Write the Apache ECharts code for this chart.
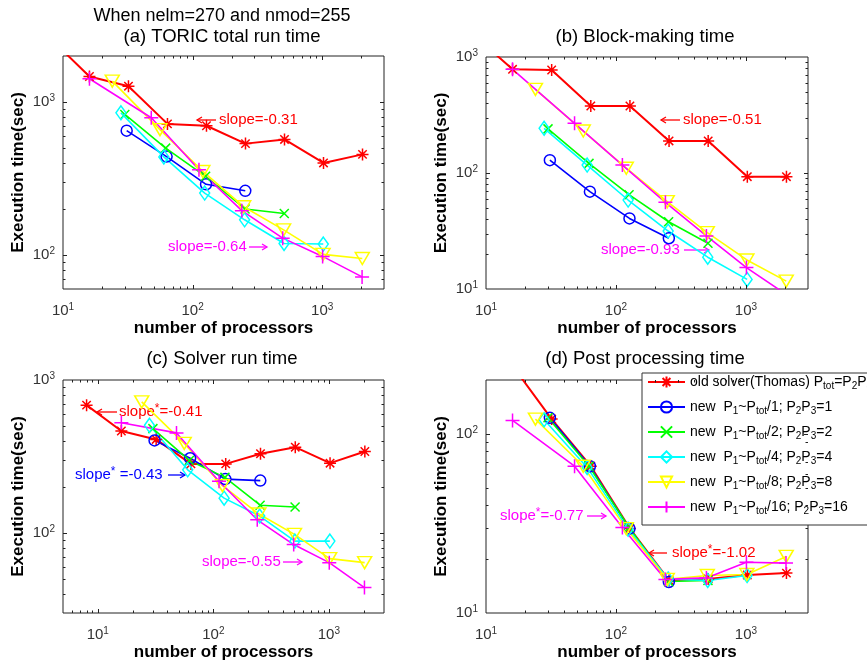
<!DOCTYPE html>
<html>
<head>
<meta charset="utf-8">
<script src="https://cdn.jsdelivr.net/npm/echarts@6/dist/echarts.min.js"></script>
<style>
html, body { margin: 0; padding: 0; background: #fff; }
#main { width: 867px; height: 664px; }
</style>
</head>
<body>
<div id="main"></div>
<script>
// processor counts of each run
var xOld = [8, 16, 32, 64, 128, 256, 512, 1024, 2048];
var xNew1 = [31, 63, 127, 255];
var xNew2 = [30, 62, 126, 254, 510];
var xNew4 = [28, 60, 124, 252, 508, 1020];
var xNew8 = [24, 56, 120, 248, 504, 1016, 2040];
var xNew16 = [16, 48, 112, 240, 496, 1008, 2032];

// (a) total run time
var totOld = [2600, 1470, 1270, 720, 700, 535, 570, 400, 455];
var totNew1 = [650, 440, 290, 263];
var totNew2 = [830, 500, 327, 200, 187];
var totNew4 = [850, 438, 254, 170, 119, 118];
var totNew8 = [1370, 660, 352, 207, 146, 101, 95];
var totNew16 = [1420, 790, 361, 195, 129, 98, 72];

// (b) block-making time
var blkOld = [1560, 783, 773, 378, 378, 189, 189, 93, 93];
var blkNew1 = [129, 69, 40.6, 27.4];
var blkNew2 = [240, 121, 65, 38, 24.8];
var blkNew4 = [243, 117, 58.5, 31.6, 18.8, 12.1];
var blkNew8 = [526, 230, 110, 56.6, 30.6, 17.8, 11.7];
var blkNew16 = [783, 268, 117, 55.9, 28.7, 15.3, 9];

// (c) solver run time
var solOld = [685, 464, 409, 283, 283, 330, 364, 286, 341];
var solNew1 = [403, 308, 225, 220];
var solNew2 = [481, 298, 231, 152, 148];
var solNew4 = [506, 259, 169, 129, 88.5, 88.5];
var solNew8 = [720, 385, 204, 133, 98, 68, 64];
var solNew16 = [526, 451, 218, 122, 84, 64, 44];

// (d) post processing time
var postOld = [480, 240, 121, 66, 29.6, 15.2, 15.5, 16.3, 16.7];
var postNew1 = [123, 66, 29.6, 14.9];
var postNew2 = [123, 66, 30, 15, 15.2];
var postNew4 = [120, 65, 29.4, 15.5, 15.2, 16.2];
var postNew8 = [121, 66, 29.6, 15.4, 16.2, 16.4, 20.7];
var postNew16 = [119, 66, 30, 15.4, 15.7, 19.2, 19.0];

var seriesNames = ['old', 'new1', 'new2', 'new4', 'new8', 'new16'];
var legendText = {
  old: 'old solver(Thomas) P{s|tot}=P{s|2}P{s|3}',
  new1: 'new  P{s|1}~P{s|tot}/1; P{s|2}P{s|3}=1',
  new2: 'new  P{s|1}~P{s|tot}/2; P{s|2}P{s|3}=2',
  new4: 'new  P{s|1}~P{s|tot}/4; P{s|2}P{s|3}=4',
  new8: 'new  P{s|1}~P{s|tot}/8; P{s|2}P{s|3}=8',
  new16: 'new  P{s|1}~P{s|tot}/16; P{s|2}P{s|3}=16'
};
var xLists = [xOld, xNew1, xNew2, xNew4, xNew8, xNew16];
var panels = [
  [totOld, totNew1, totNew2, totNew4, totNew8, totNew16],
  [blkOld, blkNew1, blkNew2, blkNew4, blkNew8, blkNew16],
  [solOld, solNew1, solNew2, solNew4, solNew8, solNew16],
  [postOld, postNew1, postNew2, postNew4, postNew8, postNew16]
];

var colors = ['#ff0000', '#0000ff', '#00ff00', '#00ffff', '#ffff00', '#ff00ff'];
var symbols = [
  'path://M10 0L10 20M0 10L20 10M3 3L17 17M3 17L17 3',
  'circle',
  'path://M0 0L20 20M0 20L20 0',
  'diamond',
  'path://M0 0L20 0L10 17Z',
  'path://M10 0L10 20M0 10L20 10'
];
var symbolSizes = [12, 11, 9, [10, 14], [14, 12], 14];

var FONT = '"Liberation Sans", Arial, Helvetica, sans-serif';

var grids = [
  {left: 63, top: 56, width: 321, height: 233},
  {left: 486, top: 57, width: 322, height: 232},
  {left: 63, top: 380, width: 321, height: 233},
  {left: 486, top: 380, width: 322, height: 233}
];
var xRange = [[10, 3000], [10, 3000], [5, 3000], [10, 3000]];
var yRange = [[60, 2000], [10, 1000], [30, 1000], [10, 200]];

function powLabel(v) {
  var e = Math.round(Math.log10(v));
  if (Math.abs(v - Math.pow(10, e)) / v > 1e-6) return '';
  return '{b|10}{e|' + e + '}';
}
var tickRich = {
  b: {fontSize: 15, lineHeight: 18, color: '#333', fontFamily: FONT},
  e: {fontSize: 10, lineHeight: 8, verticalAlign: 'top', color: '#333', fontFamily: FONT}
};

var xAxes = [], yAxes = [], series = [];
for (var k = 0; k < 4; k++) {
  grids[k].show = true;
  grids[k].borderColor = '#222';
  grids[k].borderWidth = 1;
  grids[k].backgroundColor = 'transparent';
  xAxes.push({
    type: 'log', logBase: 10, gridIndex: k,
    min: xRange[k][0], max: xRange[k][1],
    name: 'number of processors', nameLocation: 'middle', nameGap: 29,
    nameTextStyle: {fontSize: 17, fontWeight: 'bold', color: '#000', fontFamily: FONT},
    axisLine: {show: false}, axisTick: {show: false}, splitLine: {show: false},
    axisLabel: {margin: 13, fontSize: 15, color: '#333', formatter: powLabel, rich: tickRich,
      showMinLabel: true, showMaxLabel: true}
  });
  yAxes.push({
    type: 'log', logBase: 10, gridIndex: k,
    min: yRange[k][0], max: yRange[k][1],
    name: 'Execution time(sec)', nameLocation: 'middle', nameGap: 36,
    nameTextStyle: {fontSize: 17, fontWeight: 'bold', color: '#000', fontFamily: FONT},
    axisLine: {show: false}, axisTick: {show: false}, splitLine: {show: false},
    axisLabel: {margin: 8, fontSize: 15, color: '#333', formatter: powLabel, rich: tickRich,
      showMinLabel: true, showMaxLabel: true}
  });
  for (var s = 0; s < 6; s++) {
    var xs = xLists[s], ys = panels[k][s], pts = [];
    for (var i = 0; i < xs.length; i++) pts.push([xs[i], ys[i]]);
    series.push({
      type: 'line', name: seriesNames[s], xAxisIndex: k, yAxisIndex: k,
      data: pts, clip: true,
      symbol: symbols[s], symbolSize: symbolSizes[s], showAllSymbol: true,
      lineStyle: {color: colors[s], width: s === 0 ? 2 : 1.6},
      itemStyle: {color: 'none', borderColor: colors[s], borderWidth: 1.5},
      emphasis: {disabled: true}
    });
  }
}

var chart = echarts.init(document.getElementById('main'));
chart.setOption({
  animation: false,
  backgroundColor: '#fff',
  grid: grids,
  xAxis: xAxes,
  yAxis: yAxes,
  legend: {
    data: seriesNames,
    orient: 'vertical', left: 642, top: 373,
    padding: [0, 5, 9, 5], itemGap: 7, itemWidth: 37, itemHeight: 14,
    backgroundColor: '#fff', borderColor: '#333', borderWidth: 1, borderRadius: 0,
    selectedMode: false,
    formatter: function (name) { return legendText[name]; },
    textStyle: {
      fontSize: 14, lineHeight: 18, color: '#000', fontFamily: FONT,
      rich: {s: {fontSize: 10, lineHeight: 5, verticalAlign: 'bottom', color: '#000', fontFamily: FONT}}
    }
  },
  series: series
});

// titles, slope notes and MATLAB-like log ticks
var els = [];
function label(x, y, txt, size, color, align, weight) {
  els.push({type: 'text', x: x, y: y, silent: true, style: {
    text: txt, fill: color, fontSize: size, fontFamily: FONT, fontWeight: weight || 'normal',
    align: align, verticalAlign: 'middle'
  }});
}
var noteRich = {u: {fontSize: 12, lineHeight: 8, verticalAlign: 'top', fontFamily: FONT}};
function note(x, y, txt, color) {
  els.push({type: 'text', x: x, y: y, silent: true, style: {
    text: txt, fill: color, fontSize: 15, lineHeight: 18, fontFamily: FONT,
    align: 'left', verticalAlign: 'middle', rich: noteRich
  }});
}
function arrow(tail, tip, y, color) {
  var d = tip > tail ? -1 : 1;
  els.push({type: 'line', silent: true, shape: {x1: tail, y1: y, x2: tip, y2: y},
    style: {stroke: color, lineWidth: 1.3}});
  els.push({type: 'polyline', silent: true,
    shape: {points: [[tip + 5 * d, y - 3], [tip, y], [tip + 5 * d, y + 3]]},
    style: {stroke: color, lineWidth: 1.3, fill: 'none'}});
}

label(222, 16, 'When nelm=270 and nmod=255', 18, '#000', 'center');
label(222, 37, '(a) TORIC total run time', 18.5, '#000', 'center');
label(645, 37, '(b) Block-making time', 18.5, '#000', 'center');
label(222, 359, '(c) Solver run time', 18.5, '#000', 'center');
label(645, 359, '(d) Post processing time', 18.5, '#000', 'center');

arrow(216, 197, 120, '#ff0000'); note(219, 120, 'slope=-0.31', '#ff0000');
note(168, 247, 'slope=-0.64', '#ff00ff'); arrow(249, 267, 247, '#ff00ff');
arrow(680, 661, 120, '#ff0000'); note(683, 120, 'slope=-0.51', '#ff0000');
note(601, 250, 'slope=-0.93', '#ff00ff'); arrow(684, 709, 250, '#ff00ff');
arrow(117, 97, 412, '#ff0000'); note(119, 412, 'slope{u|*}=-0.41', '#ff0000');
note(75, 475, 'slope{u|*} =-0.43', '#0000ff'); arrow(168, 185, 475, '#0000ff');
note(202, 562, 'slope=-0.55', '#ff00ff'); arrow(283, 302, 562, '#ff00ff');
note(500, 516, 'slope{u|*}=-0.77', '#ff00ff'); arrow(587, 606, 516, '#ff00ff');
arrow(667, 649, 553, '#ff0000'); note(672, 553, 'slope{u|*}=-1.02', '#ff0000');

function logTicks(lo, hi) {
  var out = [];
  for (var d = Math.floor(Math.log10(lo)); d <= Math.ceil(Math.log10(hi)); d++) {
    for (var m = 1; m <= 9; m++) {
      var v = m * Math.pow(10, d);
      if (v > lo * 1.0001 && v < hi * 0.9999) out.push({v: v, major: m === 1});
    }
  }
  return out;
}
function tick(x1, y1, x2, y2) {
  els.push({type: 'line', silent: true, z: 10, shape: {x1: x1, y1: y1, x2: x2, y2: y2},
    style: {stroke: '#222', lineWidth: 1}});
}
for (var g = 0; g < 4; g++) {
  var L = grids[g].left, T = grids[g].top;
  var R = L + grids[g].width, B = T + grids[g].height;
  logTicks(xRange[g][0], xRange[g][1]).forEach(function (t) {
    var px = Math.round(chart.convertToPixel({xAxisIndex: g}, t.v)) + 0.5;
    var len = t.major ? 4 : 2.5;
    tick(px, B, px, B - len);
    tick(px, T, px, T + len);
  });
  logTicks(yRange[g][0], yRange[g][1]).forEach(function (t) {
    var py = Math.round(chart.convertToPixel({yAxisIndex: g}, t.v)) + 0.5;
    var len = t.major ? 4 : 2.5;
    tick(L, py, L + len, py);
    tick(R, py, R - len, py);
  });
}

chart.setOption({graphic: {elements: els}});
</script>
</body>
</html>
